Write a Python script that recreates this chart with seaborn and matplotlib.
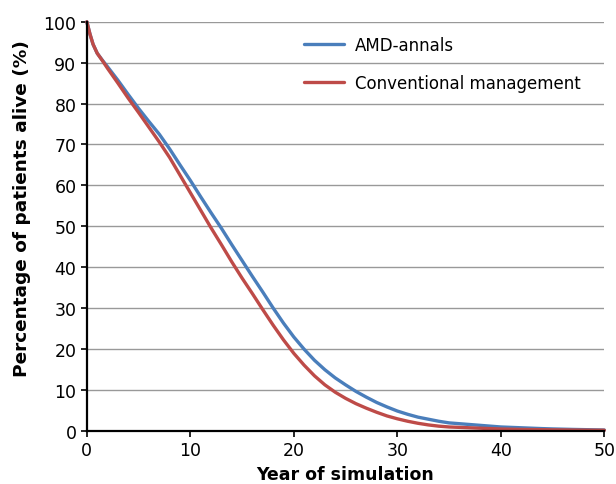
import pandas as pd
import seaborn as sns
import matplotlib.pyplot as plt

# Valores (anos de simulação vs % de pacientes vivos)
YEARS = [0, 0.3, 0.6, 1, 1.5, 2, 3, 4, 5, 6, 7, 8, 9, 10, 11, 12, 13, 14, 15, 16,
         17, 18, 19, 20, 21, 22, 23, 24, 25, 26, 27, 28, 29, 30, 31, 32, 33, 34,
         35, 36, 37, 38, 39, 40, 41, 42, 43, 44, 45, 46, 47, 48, 49, 50]
AMD_ANNALS = [100, 97, 94.5, 92.3, 90.6, 89.0, 85.7, 82.2, 78.8, 75.6, 72.5, 68.9,
              65.0, 61.2, 57.2, 53.3, 49.5, 45.5, 41.6, 37.7, 33.9, 30.0, 26.3,
              22.9, 19.9, 17.2, 14.9, 12.9, 11.2, 9.6, 8.2, 6.9, 5.8, 4.8, 4.0,
              3.3, 2.8, 2.3, 1.9, 1.7, 1.5, 1.3, 1.1, 0.9, 0.8, 0.7, 0.6, 0.5,
              0.42, 0.36, 0.3, 0.25, 0.2, 0.15]
CONVENTIONAL = [100, 97, 94.5, 92.3, 90.5, 88.6, 85.0, 81.3, 77.8, 74.2, 70.6,
                66.8, 62.5, 58.2, 53.9, 49.6, 45.5, 41.3, 37.3, 33.5, 29.6, 25.8,
                22.2, 18.9, 16.0, 13.4, 11.2, 9.4, 7.9, 6.6, 5.5, 4.5, 3.6, 2.9,
                2.3, 1.8, 1.4, 1.1, 0.9, 0.8, 0.7, 0.6, 0.5, 0.4, 0.35, 0.3,
                0.27, 0.24, 0.2, 0.18, 0.15, 0.13, 0.11, 0.1]
SERIES = {'AMD-annals': AMD_ANNALS, 'Conventional management': CONVENTIONAL}
COLORS = {'AMD-annals': '#4A7EBB', 'Conventional management': '#BE4B48'}

df = pd.concat([
    pd.DataFrame({'year': YEARS, 'alive': vals, 'group': name})
    for name, vals in SERIES.items()
], ignore_index=True)

sns.set_style('white')
plt.rcParams['font.family'] = ['DejaVu Sans']
plt.rcParams['text.color'] = 'black'
plt.rcParams['axes.labelcolor'] = 'black'

fig = plt.figure(figsize=(6.16, 4.85), dpi=100)
ax = fig.add_axes([0.141, 0.110, 0.840, 0.843])

sns.lineplot(data=df, x='year', y='alive', hue='group', palette=COLORS,
             linewidth=2.4, ax=ax, clip_on=False)

ax.set_xlim(0, 50)
ax.set_ylim(0, 100)
ax.set_xticks(range(0, 51, 10))
ax.set_yticks(range(0, 101, 10))
ax.yaxis.grid(True, color='#999999', linewidth=1)
ax.set_axisbelow(True)

for side in ['top', 'right']:
    ax.spines[side].set_visible(False)
for side in ['left', 'bottom']:
    ax.spines[side].set_color('black')
    ax.spines[side].set_linewidth(1.6)

ax.tick_params(axis='both', direction='out', length=4, width=1.2,
               labelsize=12.5, colors='black', bottom=True, left=True)
ax.set_xlabel('Year of simulation', fontsize=12.5, fontweight='bold')
ax.set_ylabel('Percentage of patients alive (%)', fontsize=13.3,
              fontweight='bold')
ax.yaxis.set_label_coords(-0.107, 0.545)

leg = ax.legend(title=None, frameon=False, loc='upper left',
                bbox_to_anchor=(0.39, 1.003), fontsize=12, handlelength=2.4,
                handletextpad=0.7, labelspacing=1.2)
for t in leg.get_texts():
    t.set_color('black')

plt.savefig('out.png', dpi=100)
plt.close()
